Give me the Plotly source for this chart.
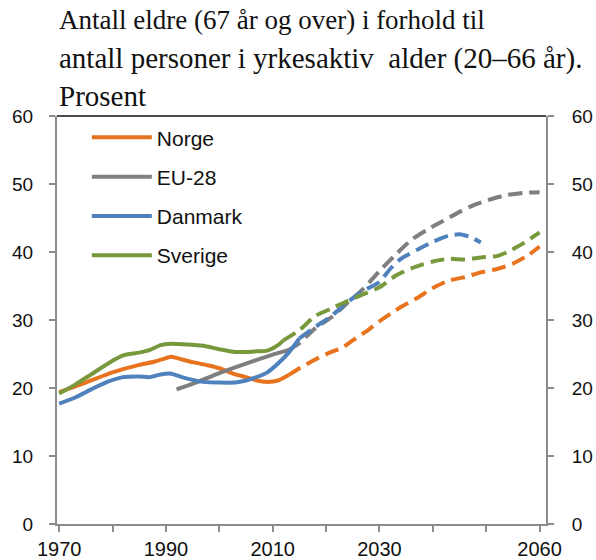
import plotly.graph_objects as go

# ---- data (percent) ----
norge_hist_years = [1970, 1975, 1980, 1985, 1988, 1990, 1991, 1993, 1995, 1998, 2000, 2003, 2005, 2007, 2009, 2011, 2013]
norge_hist_vals = [19.4, 20.8, 22.3, 23.4, 23.9, 24.4, 24.6, 24.2, 23.8, 23.3, 22.9, 22.0, 21.6, 21.1, 20.9, 21.1, 21.9]
norge_proj_years = [2013, 2015, 2018, 2021, 2023, 2025, 2028, 2030, 2034, 2037, 2040, 2043, 2046, 2049, 2052, 2055, 2058, 2060]
norge_proj_vals = [21.9, 22.9, 24.2, 25.3, 25.9, 27.0, 28.6, 29.8, 31.9, 33.2, 34.7, 35.8, 36.3, 37.0, 37.5, 38.3, 39.6, 40.8]

eu_hist_years = [1992, 1995, 2000, 2005, 2010, 2013]
eu_hist_vals = [19.8, 20.6, 22.2, 23.6, 24.9, 25.6]
eu_proj_years = [2013, 2015, 2018, 2021, 2024, 2027, 2030, 2033, 2036, 2039, 2042, 2045, 2048, 2051, 2054, 2057, 2060]
eu_proj_vals = [25.6, 26.6, 28.8, 30.4, 32.5, 34.6, 37.2, 39.6, 41.8, 43.3, 44.6, 45.9, 47.0, 47.8, 48.4, 48.7, 48.8]

dk_hist_years = [1970, 1973, 1976, 1979, 1982, 1985, 1987, 1989, 1991, 1993, 1995, 1997, 2000, 2003, 2005, 2007, 2009, 2011, 2013, 2015]
dk_hist_vals = [17.7, 18.6, 19.8, 20.9, 21.6, 21.7, 21.6, 22.0, 22.1, 21.6, 21.2, 20.9, 20.8, 20.8, 21.1, 21.6, 22.3, 23.6, 25.2, 27.3]
dk_proj_years = [2015, 2018, 2021, 2024, 2027, 2030, 2032, 2034, 2037, 2040, 2043, 2045, 2047, 2049]
dk_proj_vals = [27.3, 29.0, 30.6, 32.6, 34.3, 35.6, 37.5, 39.0, 40.3, 41.5, 42.4, 42.6, 42.2, 41.4]

se_hist_years = [1970, 1973, 1976, 1980, 1982, 1985, 1987, 1989, 1991, 1994, 1997, 2000, 2003, 2005, 2007, 2009, 2011, 2012]
se_hist_vals = [19.2, 20.5, 22.0, 24.0, 24.8, 25.2, 25.6, 26.3, 26.5, 26.4, 26.2, 25.7, 25.3, 25.3, 25.4, 25.5, 26.3, 27.0]
se_proj_years = [2012, 2015, 2018, 2021, 2024, 2027, 2030, 2033, 2036, 2040, 2043, 2046, 2049, 2052, 2054, 2057, 2060]
se_proj_vals = [27.0, 28.5, 30.6, 31.7, 32.8, 33.8, 34.8, 36.5, 37.6, 38.6, 39.0, 38.9, 39.2, 39.4, 40.0, 41.3, 42.9]

series_names = ["Norge", "EU-28", "Danmark", "Sverige"]
series_colors = ["#E8731F", "#7F7F7F", "#4F81BD", "#77993C"]

x_tickvals = [1970, 1980, 1990, 2000, 2010, 2020, 2030, 2040, 2050, 2060]
x_ticktext = ["1970", "", "1990", "", "2010", "", "2030", "", "", "2060"]
y_tickvals = [0, 10, 20, 30, 40, 50, 60]

title_lines = [
    "Antall eldre (67 år og over) i forhold til",
    "antall personer i yrkesaktiv  alder (20–66 år).",
    "Prosent",
]

hist = [(norge_hist_years, norge_hist_vals), (eu_hist_years, eu_hist_vals),
        (dk_hist_years, dk_hist_vals), (se_hist_years, se_hist_vals)]
proj = [(norge_proj_years, norge_proj_vals), (eu_proj_years, eu_proj_vals),
        (dk_proj_years, dk_proj_vals), (se_proj_years, se_proj_vals)]

fig = go.Figure()
for i, name in enumerate(series_names):
    px_, py_ = proj[i]
    fig.add_trace(go.Scatter(x=px_, y=py_, mode="lines", name=name, showlegend=False,
                             legendgroup=name,
                             line=dict(color=series_colors[i], width=4, dash="14px,7px", shape="spline", smoothing=0.6)))
for i, name in enumerate(series_names):
    hx, hy = hist[i]
    fig.add_trace(go.Scatter(x=hx, y=hy, mode="lines", name=name, legendgroup=name,
                             legendrank=i + 1,
                             line=dict(color=series_colors[i], width=4, shape="spline", smoothing=0.6)))
# invisible trace on second y axis so the right axis is drawn
fig.add_trace(go.Scatter(x=[norge_hist_years[0]], y=[norge_hist_vals[0]], yaxis="y2",
                         mode="lines", showlegend=False, hoverinfo="skip", opacity=0))

axis_font = dict(family="Liberation Sans, Arial, sans-serif", size=19, color="#111111")
common_axis = dict(ticks="outside", ticklen=6, tickwidth=1.5, tickcolor="#8C8C8C",
                   showline=True, linecolor="#8C8C8C", linewidth=2, showgrid=False,
                   zeroline=False, automargin=False)
fig.update_layout(
    width=596, height=560,
    margin=dict(l=57, r=50, t=116, b=36),
    paper_bgcolor="white", plot_bgcolor="white",
    showlegend=True,
    legend=dict(x=0.061, y=0.997, xanchor="left", yanchor="top",
                font=dict(family="Liberation Sans, Arial, sans-serif", size=21, color="#111111"),
                tracegroupgap=9, bgcolor="rgba(0,0,0,0)", itemwidth=60),
    xaxis=dict(range=[1969.6, 2061.2], tickmode="array", tickvals=x_tickvals, ticktext=x_ticktext,
               tickfont=dict(family="Liberation Sans, Arial, sans-serif", size=20, color="#111111"),
               ticklabelstandoff=0, **common_axis),
    yaxis=dict(range=[0, 60], tickmode="array", tickvals=y_tickvals,
               tickfont=axis_font, ticklabelstandoff=12, **common_axis),
    yaxis2=dict(range=[0, 60], tickmode="array", tickvals=y_tickvals, overlaying="y", side="right",
                tickfont=axis_font, ticklabelstandoff=14, **common_axis),
)
# black top border
fig.add_shape(type="line", xref="paper", yref="paper", x0=0, x1=1, y0=1, y1=1,
              line=dict(color="#111111", width=1.5))

title_y = [1.236, 1.141, 1.048]
title_sizes = [27, 29, 29]
for txt, ty, ts in zip(title_lines, title_y, title_sizes):
    fig.add_annotation(text=txt, xref="paper", yref="paper", x=0.0, y=ty, xanchor="left", yanchor="middle",
                       showarrow=False, font=dict(family="Liberation Serif, Times New Roman, serif", size=ts, color="#111111"))

fig.write_html("out.html", config={"displayModeBar": False},
               post_script="document.body.style.margin='0';document.body.style.overflow='hidden';")
